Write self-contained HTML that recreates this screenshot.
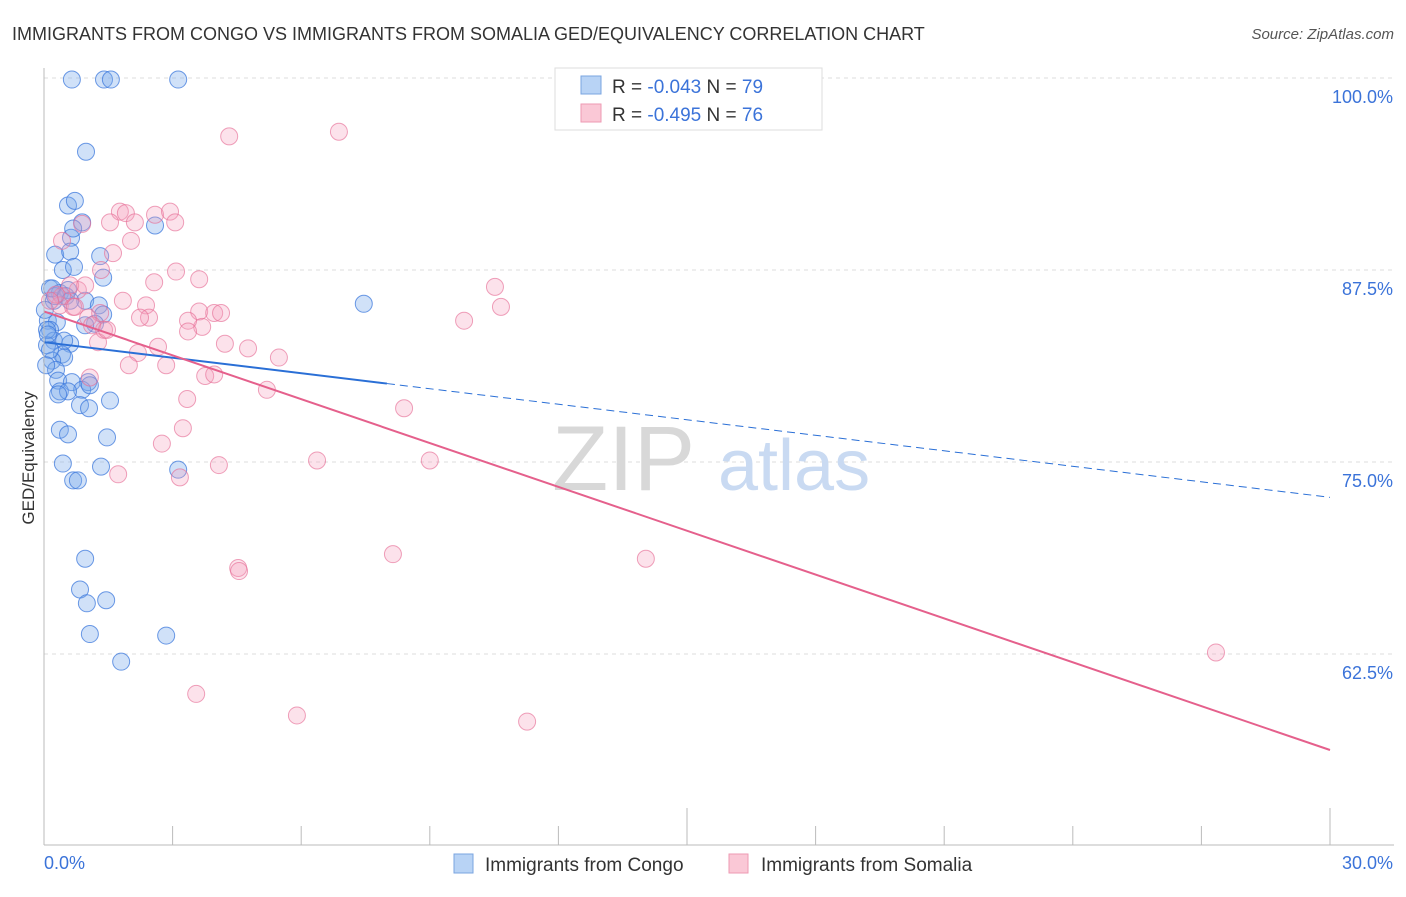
<!DOCTYPE html>
<html><head><meta charset="utf-8"><style>
body{margin:0;background:#fff;font-family:"Liberation Sans",sans-serif}
svg text{font-family:"Liberation Sans",sans-serif}
</style></head><body>
<svg id="chart" width="1406" height="892" viewBox="0 0 1406 892" xmlns="http://www.w3.org/2000/svg">
<text x="12" y="40" font-size="18" fill="#333">IMMIGRANTS FROM CONGO VS IMMIGRANTS FROM SOMALIA GED/EQUIVALENCY CORRELATION CHART</text>
<text x="1394" y="39" font-size="15" fill="#555" text-anchor="end" font-style="italic">Source: ZipAtlas.com</text>
<g id="grid"></g>
<g>
<text x="552" y="490" font-size="92" fill="#d8d8d8" font-family="Liberation Serif">ZIP</text>
<text x="718" y="490" font-size="72" fill="#c9daf2">atlas</text>
</g>
<g id="points"></g>
<g id="trends"></g>
<g id="axes"></g>
<text transform="translate(34,458) rotate(-90)" font-size="17" fill="#333" text-anchor="middle">GED/Equivalency</text>
<g>
<rect x="555" y="68" width="267" height="62" fill="#fff" stroke="#ddd"/>
<rect x="581" y="76" width="20" height="18" fill="#b8d3f5" stroke="#7aa5e0"/>
<rect x="581" y="104" width="20" height="18" fill="#fac8d6" stroke="#ee9ab3"/>
<text x="612" y="93" font-size="19" fill="#333">R = <tspan fill="#3b73d9">-0.043</tspan>    N = <tspan fill="#3b73d9">79</tspan></text>
<text x="612" y="121" font-size="19" fill="#333">R = <tspan fill="#3b73d9">-0.495</tspan>    N = <tspan fill="#3b73d9">76</tspan></text>
</g>
<g>
<rect x="454" y="854" width="19" height="19" fill="#b8d3f5" stroke="#7aa5e0"/>
<text x="485" y="871" font-size="19" fill="#333">Immigrants from Congo</text>
<rect x="729" y="854" width="19" height="19" fill="#fac8d6" stroke="#ee9ab3"/>
<text x="761" y="871" font-size="19" fill="#333">Immigrants from Somalia</text>
</g>
</svg>
<script>
const congoX=[0.65,1.40,1.56,3.13,0.98,0.56,0.72,0.89,0.63,2.59,0.68,0.26,0.61,1.31,0.44,0.70,1.38,0.14,0.37,0.56,0.96,1.28,0.23,1.38,0.09,0.30,1.19,0.96,0.14,7.46,0.23,0.61,0.07,0.42,0.47,0.19,0.28,0.33,0.65,1.03,0.89,0.37,0.56,1.54,0.84,1.05,0.37,0.56,1.47,0.44,1.33,3.13,0.68,0.79,0.96,0.84,1.45,1.00,1.07,2.85,1.80,0.07,0.14,0.26,0.02,0.05,0.19,0.51,1.07,0.33,0.47,0.61,0.09];
const congoY=[99.9,99.9,99.9,99.9,95.2,91.7,92.0,90.6,89.6,90.4,90.2,88.5,88.7,88.4,87.5,87.7,87.0,86.3,86.0,86.2,85.5,85.2,85.5,84.6,84.2,84.1,84.0,83.9,83.6,85.3,82.9,82.7,82.6,82.0,81.8,81.6,81.0,80.3,80.2,80.2,79.7,79.6,79.6,79.0,78.7,78.5,77.1,76.8,76.6,74.9,74.7,74.5,73.8,73.8,68.7,66.7,66.0,65.8,63.8,63.7,62.0,83.6,82.3,85.8,84.9,81.3,86.3,85.8,80.0,79.4,82.9,85.5,83.3];
const somaliaX=[4.32,6.88,1.77,1.91,2.59,2.94,3.06,1.54,2.12,0.42,2.03,1.61,0.89,1.33,3.08,3.62,2.57,10.52,10.66,1.84,2.38,2.45,3.62,3.97,4.13,3.69,3.36,3.36,9.80,0.42,0.37,0.68,1.03,1.40,1.26,2.66,4.76,5.48,4.22,2.19,2.85,1.98,3.76,3.97,5.20,8.40,3.34,1.07,3.24,2.75,3.17,1.73,4.08,6.37,9.00,4.53,4.55,8.14,14.04,27.34,3.55,5.90,11.27,0.79,1.31,0.61,0.96,0.28,1.12,0.72,2.24,0.14,1.47];
const somaliaY=[96.2,96.5,91.3,91.2,91.1,91.3,90.6,90.6,90.6,89.4,89.4,88.6,90.5,87.5,87.4,86.9,86.7,86.4,85.1,85.5,85.2,84.4,84.8,84.7,84.7,83.8,84.2,83.5,84.2,85.8,85.2,85.1,84.4,83.6,82.8,82.5,82.4,81.8,82.7,82.1,81.3,81.3,80.6,80.7,79.7,78.5,79.1,80.5,77.2,76.2,74.0,74.2,74.8,75.1,75.1,68.1,67.9,69.0,68.7,62.6,59.9,58.5,58.1,86.2,84.7,86.5,86.5,85.9,83.9,85.1,84.4,85.5,83.6];
const yTicks=[100,87.5,75,62.5];
const yTickLabels=["100.0%","87.5%","75.0%","62.5%"];
const xTicks=[0,3,6,9,12,15,18,21,24,27,30];
const congoTrend=[82.8,72.7], congoSolidEnd=8.0;
const somaliaTrend=[84.8,56.25];
const NS="http://www.w3.org/2000/svg";
const xs=v=>44+v*(1286/30);
const ys=v=>78+(100-v)*15.36;
function mk(t,p,a){const e=document.createElementNS(NS,t);for(const k in a)e.setAttribute(k,a[k]);p.appendChild(e);return e;}
const grid=document.getElementById('grid'),axes=document.getElementById('axes'),pts=document.getElementById('points'),tr=document.getElementById('trends');
yTicks.forEach((v,i)=>{
 const l=mk('line',grid,{x1:44,x2:1394,y1:ys(v),y2:ys(v),stroke:'#ddd','stroke-dasharray':'4,4'});
 
 
 const t=mk('text',axes,{x:1393,y:ys(v)+25,'font-size':18,fill:'#3b73d9','text-anchor':'end'});
 t.textContent=yTickLabels[i];
 
 
});
const ax=mk('line',axes,{x1:44,x2:1394,y1:845,y2:845,stroke:'#bbb'});


const ay=mk('line',axes,{x1:44,x2:44,y1:68,y2:845,stroke:'#bbb'});


xTicks.forEach(v=>{
 const tall=(v===15||v===30);
 const t=mk('line',axes,{x1:xs(v),x2:xs(v),y1:tall?808:826,y2:845,stroke:'#bbb'});
 
 
});
const xl0=mk('text',axes,{x:44,y:869,'font-size':18,fill:'#3b73d9'});xl0.textContent='0.0%';


const xl1=mk('text',axes,{x:1393,y:869,'font-size':18,fill:'#3b73d9','text-anchor':'end'});xl1.textContent='30.0%';


congoX.forEach((x,i)=>{
 const c=mk('circle',pts,{cx:xs(x),cy:ys(congoY[i]),r:8.5,fill:'rgba(120,170,235,0.35)',stroke:'rgba(60,120,220,0.75)','stroke-width':1});
 
 
});
somaliaX.forEach((x,i)=>{
 const c=mk('circle',pts,{cx:xs(x),cy:ys(somaliaY[i]),r:8.5,fill:'rgba(245,160,190,0.3)',stroke:'rgba(230,110,150,0.65)','stroke-width':1});
 
 
});
const cy=x=>congoTrend[0]+(congoTrend[1]-congoTrend[0])*x/30;
const l1=mk('line',tr,{x1:xs(0),y1:ys(cy(0)),x2:xs(congoSolidEnd),y2:ys(cy(congoSolidEnd)),stroke:'#2a6fd6','stroke-width':2});


const l2=mk('line',tr,{x1:xs(congoSolidEnd),y1:ys(cy(congoSolidEnd)),x2:xs(30),y2:ys(cy(30)),stroke:'#2a6fd6','stroke-width':1,'stroke-dasharray':'8,5'});


const l3=mk('line',tr,{x1:xs(0),y1:ys(somaliaTrend[0]),x2:xs(30),y2:ys(somaliaTrend[1]),stroke:'#e5608c','stroke-width':2});


</script>
</body></html>
